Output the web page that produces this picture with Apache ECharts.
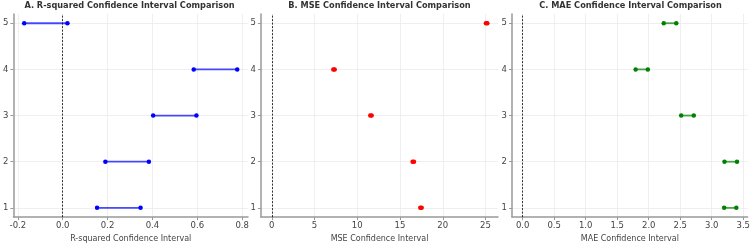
<!DOCTYPE html>
<html>
<head>
<meta charset="utf-8">
<script src="https://cdn.jsdelivr.net/npm/echarts@6/dist/echarts.min.js"></script>
<style>
  html, body { margin: 0; padding: 0; background: #fff; }
  #chartsdiv { width: 753px; height: 248px; }
</style>
</head>
<body>
<div id="chartsdiv"></div>
<script>
// 模型序号 (y)
var rows = [1, 2, 3, 4, 5];
var yTicks = [1, 2, 3, 4, 5];

// A. R-squared 置信区间
var r2Low  = [0.153, 0.190, 0.403, 0.584, -0.172];
var r2High = [0.347, 0.384, 0.596, 0.778, 0.021];
var r2Ticks = [-0.2, 0.0, 0.2, 0.4, 0.6, 0.8];

// B. MSE 置信区间
var mseLow  = [17.37, 16.47, 11.52, 7.20, 25.05];
var mseHigh = [17.53, 16.63, 11.68, 7.36, 25.21];
var mseTicks = [0, 5, 10, 15, 20, 25];

// C. MAE 置信区间
var maeLow  = [3.197, 3.202, 2.515, 1.792, 2.238];
var maeHigh = [3.390, 3.401, 2.715, 1.986, 2.437];
var maeTicks = [0.0, 0.5, 1.0, 1.5, 2.0, 2.5, 3.0, 3.5];

var panels = [
    { title: 'A. R-squared Confidence Interval Comparison', name: 'R-squared Confidence Interval',
      low: r2Low, high: r2High, ticks: r2Ticks, min: -0.22, max: 0.826, color: '#0000ff', left: 11, dec: 1 },
    { title: 'B. MSE Confidence Interval Comparison', name: 'MSE Confidence Interval',
      low: mseLow, high: mseHigh, ticks: mseTicks, min: -1.26, max: 26.46, color: '#ff0000', left: 261, dec: 0 },
    { title: 'C. MAE Confidence Interval Comparison', name: 'MAE Confidence Interval',
      low: maeLow, high: maeHigh, ticks: maeTicks, min: -0.17, max: 3.57, color: '#008000', left: 512, dec: 1 }
];

var plotW = 237;
var option = {
    animation: false,
    backgroundColor: '#fff',
    textStyle: { fontFamily: 'DejaVu Sans' },
    title: [], grid: [], xAxis: [], yAxis: [], series: []
};

panels.forEach(function (p, i) {
    option.title.push({
        text: p.title, padding: 0,
        left: p.left + plotW / 2, top: 2, textAlign: 'center',
        textStyle: { fontSize: 8.2, fontWeight: 'bold', color: '#333', fontFamily: 'DejaVu Sans' }
    });
    option.grid.push({ left: p.left, top: 14, width: plotW, height: 213 });
    option.xAxis.push({
        type: 'value', gridIndex: i, min: p.min, max: p.max,
        name: p.name, nameLocation: 'middle', nameGap: 17,
        nameTextStyle: { fontSize: 8, color: '#444' },
        axisLine: { show: true, onZero: false, lineStyle: { color: '#999', width: 1.5 } },
        axisTick: { show: true, length: 3, customValues: p.ticks, lineStyle: { color: '#999' } },
        axisLabel: { customValues: p.ticks, fontSize: 8.5, color: '#444', margin: 4,
            formatter: function (v) { return v.toFixed(p.dec); } },
        splitLine: { show: true, lineStyle: { color: '#ebebeb', width: 0.8 } }
    });
    option.yAxis.push({
        type: 'value', gridIndex: i, min: 0.8, max: 5.2,
        axisLine: { show: true, onZero: false, lineStyle: { color: '#999', width: 1.5 } },
        axisTick: { show: true, length: 3, customValues: yTicks, lineStyle: { color: '#999' } },
        axisLabel: { customValues: yTicks, fontSize: 8.5, color: '#444', margin: 5 },
        splitLine: { show: true, lineStyle: { color: '#ebebeb', width: 0.8 } }
    });
    // 每个模型一条区间线
    rows.forEach(function (r, k) {
        option.series.push({
            type: 'line', xAxisIndex: i, yAxisIndex: i,
            data: [[p.low[k], r], [p.high[k], r]],
            symbol: 'circle', symbolSize: 4.5,
            itemStyle: { color: p.color },
            lineStyle: { color: p.color, width: 1.8, opacity: 0.7 },
            markLine: k === 0 ? {
                silent: true, symbol: 'none', label: { show: false },
                lineStyle: { color: '#000', type: [2, 1.5], width: 0.8 },
                data: [{ xAxis: 0 }]
            } : undefined
        });
    });
});

var myChart = echarts.init(document.getElementById('chartsdiv'));
myChart.setOption(option);
</script>
</body>
</html>
